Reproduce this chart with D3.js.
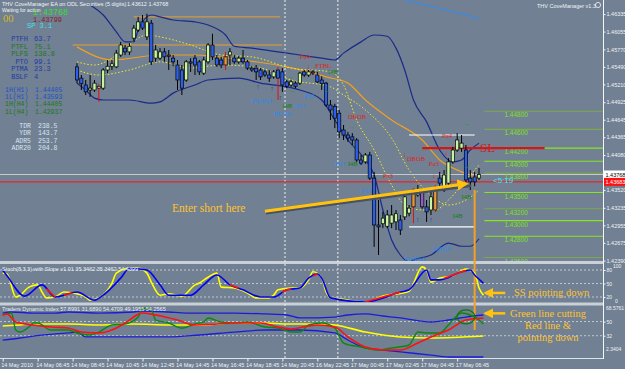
<!DOCTYPE html>
<html>
<head>
<meta charset="UTF-8">
<title>THV CoveManager - EURUSD M15</title>
<script src="https://d3js.org/d3.v7.min.js"></script>
<style>
  body { margin: 0; background: #718092; }
  svg text { font-family: "Liberation Sans", Arial, sans-serif; }
  .mono { font-family: "Liberation Mono", "DejaVu Sans Mono", monospace; }
  .serif { font-family: "Liberation Serif", "DejaVu Serif", serif; }
</style>
</head>
<body>
<div id="chart"></div>
<script>
// ---- candles (15 min bars, first visible bar index = 17) ----
const firstBar = 17;
const opens = [1.4549,1.4531,1.4520,1.4512,1.4512,1.4515,1.4515,1.4544,1.4550,1.4549,
  1.4568,1.4579,1.4573,1.4595,1.4608,1.4621,1.4597,1.4619,1.4563,1.4563,
  1.4573,1.4568,1.4563,1.4552,1.4544,1.4528,1.4557,1.4563,1.4557,1.4539,
  1.4557,1.4584,1.4563,1.4560,1.4552,1.4568,1.4563,1.4557,1.4563,1.4557,
  1.4547,1.4547,1.4544,1.4541,1.4536,1.4533,1.4544,1.4541,1.4525,1.4520,
  1.4523,1.4523,1.4541,1.4536,1.4541,1.4536,1.4528,1.4523,1.4488,1.4486,
  1.4475,1.4448,1.4440,1.4437,1.4432,1.4400,1.4397,1.4408,1.4371,1.4296,
  1.4298,1.4294,1.4299,1.4301,1.4304,1.4309,1.4315,1.4325,1.4344,1.4352,
  1.4325,1.4320,1.4320,1.4371,1.4352,1.4363,1.4397,1.4416,1.4419,1.4416,
  1.4371,1.4373,1.4371];
const highs = [1.4555,1.4536,1.4528,1.4536,1.4528,1.4522,1.4547,1.4560,1.4560,1.4576,
  1.4589,1.4584,1.4587,1.4616,1.4629,1.4632,1.4634,1.4624,1.4584,1.4579,
  1.4579,1.4576,1.4568,1.4560,1.4552,1.4560,1.4563,1.4568,1.4560,1.4565,
  1.4587,1.4602,1.4568,1.4565,1.4573,1.4579,1.4568,1.4566,1.4576,1.4560,
  1.4550,1.4552,1.4547,1.4544,1.4544,1.4544,1.4549,1.4547,1.4528,1.4528,
  1.4526,1.4541,1.4544,1.4544,1.4544,1.4541,1.4534,1.4525,1.4496,1.4490,
  1.4480,1.4456,1.4445,1.4443,1.4435,1.4408,1.4411,1.4413,1.4381,1.4336,
  1.4317,1.4320,1.4328,1.4320,1.4312,1.4344,1.4328,1.4355,1.4360,1.4355,
  1.4336,1.4352,1.4360,1.4381,1.4384,1.4403,1.4421,1.4443,1.4440,1.4424,
  1.4384,1.4381,1.4387];
const lows = [1.4523,1.4512,1.4504,1.4501,1.4509,1.4493,1.4512,1.4539,1.4544,1.4547,
  1.4565,1.4568,1.4568,1.4589,1.4605,1.4608,1.4592,1.4552,1.4557,1.4560,
  1.4557,1.4544,1.4550,1.4512,1.4504,1.4525,1.4541,1.4536,1.4536,1.4536,
  1.4554,1.4560,1.4549,1.4547,1.4544,1.4552,1.4554,1.4554,1.4554,1.4544,
  1.4541,1.4528,1.4528,1.4533,1.4525,1.4530,1.4496,1.4509,1.4515,1.4517,
  1.4515,1.4520,1.4533,1.4533,1.4536,1.4523,1.4512,1.4485,1.4464,1.4451,
  1.4435,1.4432,1.4429,1.4424,1.4397,1.4392,1.4394,1.4368,1.4261,1.4248,
  1.4291,1.4291,1.4291,1.4288,1.4280,1.4304,1.4310,1.4299,1.4341,1.4322,
  1.4301,1.4312,1.4317,1.4358,1.4349,1.4360,1.4394,1.4413,1.4413,1.4360,
  1.4352,1.4358,1.4368];
const closes = [1.4528,1.4522,1.4509,1.4515,1.4523,1.4518,1.4544,1.4550,1.4554,1.4571,
  1.4584,1.4573,1.4582,1.4611,1.4621,1.4611,1.4621,1.4557,1.4576,1.4573,
  1.4565,1.4566,1.4557,1.4528,1.4515,1.4557,1.4555,1.4552,1.4541,1.4560,
  1.4584,1.4565,1.4552,1.4552,1.4565,1.4573,1.4557,1.4563,1.4557,1.4547,
  1.4544,1.4541,1.4533,1.4536,1.4531,1.4541,1.4531,1.4520,1.4518,1.4525,
  1.4518,1.4539,1.4536,1.4541,1.4539,1.4525,1.4522,1.4488,1.4480,1.4467,
  1.4445,1.4440,1.4435,1.4432,1.4400,1.4395,1.4408,1.4371,1.4296,1.4293,
  1.4307,1.4312,1.4312,1.4314,1.4288,1.4341,1.4323,1.4352,1.4352,1.4325,
  1.4317,1.4341,1.4352,1.4363,1.4376,1.4397,1.4416,1.4432,1.4427,1.4368,
  1.4365,1.4365,1.4377];
const orangeBars = [51, 94, 99];
const purpleBars = [96];
const redWickBars = [22, 51, 63, 94, 99];

// ---- price overlays (bar index / price) ----
const bbUpperIdx = [20,23,26,28,30,31,34,36,39,44,47,51,53,57,63,68,73,76,78,82,85,88,90,92,94,97,100,103,105,107,109];
const bbUpper = [1.4648,1.4632,1.4605,1.4589,1.4589,1.4608,1.4632,1.4629,1.4624,1.4621,1.4616,1.4600,1.4582,1.4579,1.4573,1.4568,1.4563,1.4560,1.4571,1.4589,1.4600,1.4598,1.4579,1.4544,1.4496,1.4461,1.4416,1.4397,1.4400,1.4416,1.4427];
const bbLowerIdx = [17,19,21,23,29,34,36,39,44,47,54,59,65,68,73,76,79,83,85,87,89,91,93,94,98,102,105,107,109];
const bbLower = [1.4523,1.4512,1.4499,1.4496,1.4496,1.4491,1.4493,1.4507,1.4520,1.4528,1.4531,1.4523,1.4517,1.4512,1.4496,1.4464,1.4432,1.4400,1.4376,1.4320,1.4272,1.4248,1.4237,1.4240,1.4248,1.4267,1.4262,1.4262,1.4274];
const fastMaIdx = [17,21,25,28,33,36,43,50,57,66,75,78,81,85,89,92,96,99,102,106,109];
const fastMa = [1.4557,1.4552,1.4563,1.4579,1.4600,1.4597,1.4584,1.4568,1.4565,1.4547,1.4541,1.4520,1.4464,1.4416,1.4360,1.4328,1.4320,1.4320,1.4336,1.4368,1.4392];
const midIdx = [17,22,29,36,43,50,59,66,75,78,83,89,93,98,102,106,109];
const midBand = [1.4544,1.4536,1.4544,1.4557,1.4547,1.4552,1.4547,1.4528,1.4517,1.4504,1.4480,1.4435,1.4384,1.4344,1.4328,1.4336,1.4352];
const slowMaIdx = [17,25,36,44,55,65,70,74,79,83,89,96,100,105,109];
const slowMa = [1.4581,1.4560,1.4568,1.4568,1.4560,1.4549,1.4541,1.4533,1.4523,1.4496,1.4464,1.4432,1.4400,1.4381,1.4371];
const pivotLines = [{price: 1.4584, from: 16, to: 64}, {price: 1.4629, from: 30, to: 63.5}];
const trendLine = {from: 92, to: 109, p1: 1.4656, p2: 1.4627};

// ---- horizontal levels on the right ----
const levelPrices = [1.4478, 1.4449, 1.4419, 1.4398, 1.4379, 1.4348, 1.4322, 1.4303, 1.4278, 1.4244];
const levelLabels = ["1.44800","1.44600","1.44200","1.44000","1.43800","1.43500","1.43200","1.43000","1.42800","1.42600"];
const levelBright = [false,false,true,true,false,true,false,true,true,false];
const boxLines = [{price: 1.4440, from: 93, to: 108}, {price: 1.4293, from: 93, to: 108}];
const slLine = {price: 1.4419, from: 96, to: 124};
const bidPrice = 1.43768, askLinePrice = 1.4365;
const bidLabel = "1.43768", redLabel = "1.43683";
const priceTicks = [1.46335,1.46055,1.45770,1.45490,1.45210,1.44925,1.44645,1.44365,1.44080,1.43520,1.43235,1.42955,1.42675,1.42390];

// ---- markup labels on the chart ----
const marks = [
  {i:68,p:1.4565,t:"Pu4",c:"#e02020"},{i:71.5,p:1.4551,t:"FTBL",c:"#e02020"},{i:74.5,p:1.4541,t:"I4B",c:"#108010"},
  {i:57,p:1.4496,t:"Pu3Pu4",c:"#2a8cf0"},{i:62,p:1.4475,t:"BUTR",c:"#2a8cf0"},{i:64,p:1.4487,t:"I4B",c:"#108010"},
  {i:67,p:1.4487,t:"Pu3",c:"#2a8cf0"},{i:69,p:1.4504,t:"Pu2",c:"#2a8cf0"},{i:79,p:1.4470,t:"DBOB",c:"#e02020"},
  {i:76,p:1.4394,t:"Pu3",c:"#2a8cf0"},{i:79,p:1.4394,t:"I4B",c:"#108010"},{i:82,p:1.4352,t:"Pu4",c:"#2a8cf0"},
  {i:87,p:1.4376,t:"Pu3",c:"#e02020"},{i:92.5,p:1.4403,t:"DBOB",c:"#e02020"},{i:97.5,p:1.4395,t:"Pu3",c:"#e02020"},
  {i:100.5,p:1.4440,t:"Pu4",c:"#e02020"},{i:105,p:1.4342,t:"I4B",c:"#108010"},{i:103,p:1.4312,t:"I4B",c:"#108010"},
  {i:98.5,p:1.4259,t:"DBOB",c:"#2a8cf0"},{i:92,p:1.4243,t:"Pu3Pu4",c:"#2a8cf0"}
];
const upArrows = [{i:58.4,p:1.4518},{i:61.6,p:1.4515},{i:63.5,p:1.4501},{i:95,p:1.4306},{i:98,p:1.4306}];
const downArrows = [{i:70,p:1.4551},{i:71.2,p:1.4543},{i:92,p:1.4410},{i:98.7,p:1.4376},{i:101.5,p:1.4413}];
const rightArrows = [{i:65.7,p:1.4533},{i:66.2,p:1.4512},{i:74.2,p:1.4512},{i:79.9,p:1.4453},{i:79.9,p:1.4424},{i:106.2,p:1.4459},{i:106.2,p:1.4389}];

// ---- Stochastic ----
const kIdx = [0,1,3,4,6,8,9,10,12,14,16,19,20,22,25,26,29,31,33,34,36,38,41,44,45,47,49,50,53,56,58,61,62,63,66,68,70,71,73,74,75,77,83,87,93,96,97,98,100,103,106,108,109,110];
const kVal = [73,71,20,24,42,47,31,18,20,31,29,20,13,18,51,73,84,84,73,53,24,27,22,47,51,64,73,42,40,29,18,18,24,36,40,40,58,76,62,31,18,16,9,22,33,87,80,53,62,67,82,73,40,24];
const dIdx = [0,1,5,9,12,17,21,23,27,29,33,36,38,43,46,49,52,55,59,62,65,68,70,72,73,75,83,91,93,97,98,100,105,107,108,110];
const dVal = [80,67,22,47,20,31,13,24,62,84,80,47,24,24,47,69,47,36,20,20,36,40,62,71,62,18,9,31,36,80,58,58,76,80,69,51];
const dRed = [[10,12],[14,16],[52,54],[64,66],[71,72],[83,91],[101,106]];
const stochTicks = [80, 50, 20];

// ---- Traders Dynamic Index ----
const tdiUpIdx = [0,2,7,12,15,22,30,32,38,42,53,60,65,68,76,79,83,87,91,98,102,106,110];
const tdiUp = [60.9,62.2,60.9,60.9,62.2,60.9,62.2,63.5,62.2,60.9,60.9,59.7,58.4,54.6,55.8,58.4,59.7,57.1,54.6,49.5,52.0,55.8,58.4];
const tdiLoIdx = [0,4,7,15,17,19,22,30,38,45,53,60,68,76,79,83,87,91,98,102,110];
const tdiLo = [26.5,29.1,31.6,35.5,36.7,30.4,30.4,30.4,30.4,32.9,36.7,39.3,39.3,35.5,26.5,16.4,13.8,11.3,7.4,4.9,4.9];
const tdiMidIdx = [0,4,7,15,22,30,38,45,53,60,65,73,76,83,91,98,110];
const tdiMid = [44.4,45.7,46.9,46.9,45.7,46.9,45.7,45.7,48.2,48.2,46.9,46.9,45.7,36.7,30.4,29.1,31.6];
const tdiSigIdx = [0,1,3,7,11,15,18,22,25,28,32,35,40,44,49,53,59,63,66,70,72,76,79,83,87,91,95,98,102,106,110];
const tdiSig = [58.4,59.7,49.5,45.7,43.1,41.8,36.7,35.5,39.3,48.2,60.9,58.4,52.0,45.7,46.9,48.2,48.2,43.1,40.6,44.4,45.7,43.1,30.4,17.6,13.8,13.8,22.7,30.4,39.3,52.0,54.6];
const tdiRsiIdx = [0,2,3,4,6,7,8,11,15,17,20,22,25,28,31,32,34,35,38,41,44,46,47,50,53,56,60,63,66,68,70,73,76,78,82,83,86,89,93,95,97,100,102,105,107,109,110];
const tdiRsi = [58.4,60.9,39.3,36.7,43.1,48.2,48.2,39.3,39.3,35.5,32.9,36.7,45.7,46.9,55.8,67.3,64.8,52.0,48.2,41.8,46.9,49.5,54.6,49.5,48.2,49.5,43.1,41.8,36.7,36.7,45.7,48.2,41.8,22.7,17.6,16.4,13.8,16.4,20.2,36.7,35.5,35.5,45.7,60.9,58.4,52.0,46.9];
const tdiTicks = [50, 32];

// ---- time axis ----
const timeTickIdx = [0,8,16,24,32,40,48,56,64,72,80,88,96,104];
const timeLabels = ["14 May 2010","14 May 06:45","14 May 08:45","14 May 10:45","14 May 12:45","14 May 14:45","14 May 16:45","14 May 18:45","14 May 20:45","16 May 22:45","17 May 00:45","17 May 02:45","17 May 04:45","17 May 06:45"];
const daySeparators = [64.6, 76.7];

// ---- layout ----
const W = 625, H = 369, axisX = 603;
const main = {top: 0, bottom: 261};
const stoch = {top: 265, bottom: 302};
const tdi = {top: 306, bottom: 358};

const x = d3.scaleLinear().domain([0, 110]).range([2.7, 483.4]);
const y = d3.scaleLinear().domain([1.4656, 1.4240]).range([0, 260]);
const yS = d3.scaleLinear().domain([0, 100]).range([306, 261]);
const yT = d3.scaleLinear().domain([2.3404, 68.5761]).range([359, 307]);

const svg = d3.select("#chart").append("svg").attr("width", W).attr("height", H);
svg.append("rect").attr("width", W).attr("height", H).attr("fill", "#718092");

const defs = svg.append("defs");
[["clipMain", main], ["clipStoch", stoch], ["clipTdi", tdi]].forEach(([id, p]) => {
  defs.append("clipPath").attr("id", id).append("rect")
    .attr("x", 0).attr("y", p.top).attr("width", axisX).attr("height", p.bottom - p.top);
});
defs.append("marker").attr("id", "head").attr("viewBox", "0 0 10 10")
  .attr("refX", 8).attr("refY", 5).attr("markerWidth", 4).attr("markerHeight", 4)
  .attr("orient", "auto").append("path").attr("d", "M0,0L10,5L0,10z").attr("fill", "#ffc20e");

function curve(idx, vals, ys) {
  return d3.line().x((d, j) => x(idx[j])).y(d => ys(d)).curve(d3.curveMonotoneX)(vals);
}

// panel separators
svg.append("rect").attr("x", 0).attr("y", 261).attr("width", axisX).attr("height", 3).attr("fill", "#c9d0d8");
svg.append("rect").attr("x", 0).attr("y", 302.5).attr("width", axisX).attr("height", 3).attr("fill", "#c9d0d8");
svg.append("line").attr("x1", 0).attr("x2", axisX).attr("y1", 358.5).attr("y2", 358.5).attr("stroke", "#dde3ea");

// day separators across all panels
daySeparators.forEach(i => {
  svg.append("line").attr("x1", x(i)).attr("x2", x(i)).attr("y1", 0).attr("y2", 358)
    .attr("stroke", "#f0f0f0").attr("stroke-dasharray", "2,2");
});

// ================= MAIN CHART =================
const gm = svg.append("g").attr("clip-path", "url(#clipMain)");

pivotLines.forEach(l => {
  gm.append("line").attr("x1", x(l.from)).attr("x2", x(l.to)).attr("y1", y(l.price)).attr("y2", y(l.price))
    .attr("stroke", "#e8a030").attr("stroke-width", 1);
});
gm.append("line").attr("x1", x(trendLine.from)).attr("x2", x(trendLine.to))
  .attr("y1", y(trendLine.p1)).attr("y2", y(trendLine.p2)).attr("stroke", "#3a8ae8").attr("stroke-width", 1.2);

gm.append("path").attr("d", curve(bbUpperIdx, bbUpper, y)).attr("fill", "none").attr("stroke", "#1a2a8a").attr("stroke-width", 1.2);
gm.append("path").attr("d", curve(bbLowerIdx, bbLower, y)).attr("fill", "none").attr("stroke", "#1a2a8a").attr("stroke-width", 1.2);
gm.append("path").attr("d", curve(slowMaIdx, slowMa, y)).attr("fill", "none").attr("stroke", "#f0a020").attr("stroke-width", 1.2);
gm.append("path").attr("d", curve(midIdx, midBand, y)).attr("fill", "none").attr("stroke", "#f0f020").attr("stroke-dasharray", "1.5,2");
gm.append("path").attr("d", curve(fastMaIdx, fastMa, y)).attr("fill", "none").attr("stroke", "#f0f020").attr("stroke-dasharray", "1.5,2");

// bid / ask lines
gm.append("line").attr("x1", 0).attr("x2", axisX).attr("y1", y(bidPrice)).attr("y2", y(bidPrice)).attr("stroke", "#c8c8c8");
gm.append("line").attr("x1", 0).attr("x2", axisX).attr("y1", y(askLinePrice)).attr("y2", y(askLinePrice)).attr("stroke", "#ff1010");

// level lines
const levelX0 = x(110) + 1;
levelPrices.forEach((p, j) => {
  gm.append("line").attr("x1", levelX0).attr("x2", axisX).attr("y1", y(p)).attr("y2", y(p))
    .attr("stroke", levelBright[j] ? "#86e81c" : "#7aa84a").attr("stroke-width", 1.2);
  gm.append("text").attr("x", levelX0 + 20).attr("y", y(p) + 6).attr("font-size", 6.5)
    .attr("fill", "#7ee020").text(levelLabels[j]);
});
boxLines.forEach(l => {
  gm.append("line").attr("x1", x(l.from)).attr("x2", x(l.to)).attr("y1", y(l.price)).attr("y2", y(l.price))
    .attr("stroke", "#ffffff").attr("stroke-width", 1.2);
});
gm.append("line").attr("x1", x(slLine.from)).attr("x2", x(slLine.to)).attr("y1", y(slLine.price)).attr("y2", y(slLine.price))
  .attr("stroke", "#d01818").attr("stroke-width", 2.2);

// candles
const bars = opens.map((o, k) => ({i: firstBar + k, o, h: highs[k], l: lows[k], c: closes[k]}));
const cg = gm.append("g");
cg.selectAll("line.wick").data(bars).enter().append("line")
  .attr("x1", d => x(d.i)).attr("x2", d => x(d.i)).attr("y1", d => y(d.h)).attr("y2", d => y(d.l))
  .attr("stroke", d => redWickBars.includes(d.i) ? "#e01010" : "#000").attr("stroke-width", 1);
cg.selectAll("rect.body").data(bars).enter().append("rect")
  .attr("x", d => x(d.i) - 1.6).attr("width", 3.2)
  .attr("y", d => y(Math.max(d.o, d.c)))
  .attr("height", d => Math.max(1, Math.abs(y(d.o) - y(d.c))))
  .attr("fill", d => orangeBars.includes(d.i) ? "#e8963c" : purpleBars.includes(d.i) ? "#9060c8" : (d.c >= d.o ? "#c8f5a0" : "#2d5fe8"))
  .attr("stroke", "#000").attr("stroke-width", 0.7);

// markup text and arrows
marks.forEach(m => {
  gm.append("text").attr("class", "serif").attr("x", x(m.i)).attr("y", y(m.p) + 2.5)
    .attr("font-size", 6.5).attr("fill", m.c).text(m.t);
});
upArrows.forEach(a => gm.append("text").attr("x", x(a.i)).attr("y", y(a.p) + 3).attr("text-anchor", "middle")
  .attr("font-size", 7).attr("fill", "#1a3aa0").text("↑"));
downArrows.forEach(a => gm.append("text").attr("x", x(a.i)).attr("y", y(a.p) + 3).attr("text-anchor", "middle")
  .attr("font-size", 7).attr("fill", "#e01818").text("↓"));
rightArrows.forEach(a => gm.append("text").attr("x", x(a.i)).attr("y", y(a.p) + 2.5).attr("text-anchor", "middle")
  .attr("font-size", 7).attr("fill", "#18a018").text("→"));

// "Enter short here" arrow
const entry = {from: 60, to: 107, p1: 1.4318, p2: 1.4362};
gm.append("line").attr("x1", x(entry.from) + 1).attr("x2", x(entry.to) + 1)
  .attr("y1", y(entry.p1) + 2).attr("y2", y(entry.p2) + 2).attr("stroke", "#4a5260").attr("stroke-width", 2.5);
gm.append("line").attr("x1", x(entry.from)).attr("x2", x(entry.to) - 4)
  .attr("y1", y(entry.p1)).attr("y2", y(entry.p2)).attr("stroke", "#ffc20e").attr("stroke-width", 2.8)
  .attr("marker-end", "url(#head)");
svg.append("text").attr("class", "serif").attr("x", 172).attr("y", 212).attr("font-size", 11.5)
  .attr("fill", "#ffc330").text("Enter short here");
svg.append("text").attr("class", "serif").attr("x", 480).attr("y", 152).attr("font-size", 13)
  .attr("fill", "#d02020").text("SL");
svg.append("text").attr("x", 493).attr("y", 183).attr("font-size", 8)
  .attr("fill", "#40e8f8").text("<5:19");

// orange vertical marker line
svg.append("line").attr("x1", x(108)).attr("x2", x(108)).attr("y1", y(1.4352)).attr("y2", yT(39.3))
  .attr("stroke", "#f5a020").attr("stroke-width", 2);

// ================= STOCH PANEL =================
const gs = svg.append("g").attr("clip-path", "url(#clipStoch)");
stochTicks.forEach(v => gs.append("line").attr("x1", 0).attr("x2", axisX).attr("y1", yS(v)).attr("y2", yS(v))
  .attr("stroke", "#c0c8d0").attr("stroke-dasharray", "2,2"));
gs.append("path").attr("d", curve(kIdx, kVal, yS)).attr("fill", "none").attr("stroke", "#ffff00").attr("stroke-width", 1.6);
gs.append("path").attr("d", curve(dIdx, dVal, yS)).attr("fill", "none").attr("stroke", "#0000f0").attr("stroke-width", 1.6);
// red slope segments on %D
const dInterp = i => {
  let j = d3.bisectRight(dIdx, i) - 1; j = Math.max(0, Math.min(dIdx.length - 2, j));
  const t = (i - dIdx[j]) / (dIdx[j + 1] - dIdx[j]);
  return dVal[j] + t * (dVal[j + 1] - dVal[j]);
};
dRed.forEach(([a, b]) => {
  const pts = d3.range(a, b + 0.01, 0.5);
  gs.append("path").attr("d", d3.line().x(i => x(i)).y(i => yS(dInterp(i)))(pts))
    .attr("fill", "none").attr("stroke", "#ff1010").attr("stroke-width", 1.6);
});
svg.append("text").attr("x", 2).attr("y", 271).attr("font-size", 5.5).attr("fill", "#e8eef4")
  .text("Stoch(8,3,3) with Slope v1.01 35.3462 35.3462 54.4399");

// ================= TDI PANEL =================
const gt = svg.append("g").attr("clip-path", "url(#clipTdi)");
tdiTicks.forEach(v => gt.append("line").attr("x1", 0).attr("x2", axisX).attr("y1", yT(v)).attr("y2", yT(v))
  .attr("stroke", "#c0c8d0").attr("stroke-dasharray", "2,2"));
gt.append("path").attr("d", curve(tdiUpIdx, tdiUp, yT)).attr("fill", "none").attr("stroke", "#1c1cd8").attr("stroke-width", 1.3);
gt.append("path").attr("d", curve(tdiLoIdx, tdiLo, yT)).attr("fill", "none").attr("stroke", "#1c1cd8").attr("stroke-width", 1.3);
gt.append("path").attr("d", curve(tdiMidIdx, tdiMid, yT)).attr("fill", "none").attr("stroke", "#ffff00").attr("stroke-width", 1.6);
gt.append("path").attr("d", curve(tdiRsiIdx, tdiRsi, yT)).attr("fill", "none").attr("stroke", "#0a8a0a").attr("stroke-width", 1.4);
gt.append("path").attr("d", curve(tdiSigIdx, tdiSig, yT)).attr("fill", "none").attr("stroke", "#ff1010").attr("stroke-width", 1.6);
gt.append("ellipse").attr("cx", x(106)).attr("cy", yT(56)).attr("rx", 9).attr("ry", 7)
  .attr("fill", "none").attr("stroke", "#0a7a0a").attr("stroke-width", 1.2);
svg.append("text").attr("x", 2).attr("y", 311).attr("font-size", 5.5).attr("fill", "#e8eef4")
  .text("Traders Dynamic Index 57.8991 31.6890 54.4709 49.1955 54.2565");

// callout arrows into the indicator panels
const callouts = [
  {from: 115, to: 109.5, yv: yS(29), lines: ["SS pointing down"], tx: 514, anchor: "start"},
  {from: 115, to: 109.5, yv: yT(60.5), lines: ["Green line cutting", "Red line &", "pointing down"], tx: 548, anchor: "middle"}
];
callouts.forEach(c => {
  svg.append("line").attr("x1", x(c.from)).attr("x2", x(c.to) + 4).attr("y1", c.yv).attr("y2", c.yv)
    .attr("stroke", "#ffc20e").attr("stroke-width", 2.5).attr("marker-end", "url(#head)");
  c.lines.forEach((t, j) => {
    svg.append("text").attr("class", "serif").attr("x", c.tx).attr("y", c.yv + 3.5 + j * 12)
      .attr("font-size", 10.5).attr("text-anchor", c.anchor).attr("fill", "#ffc330").text(t);
  });
});

// ================= AXES =================
svg.append("line").attr("x1", axisX + 0.5).attr("x2", axisX + 0.5).attr("y1", 0).attr("y2", 359).attr("stroke", "#f4f6f8");
const rAxis = svg.append("g").attr("transform", `translate(${axisX + 0.5},0)`);
rAxis.call(d3.axisRight(y).tickValues(priceTicks).tickSize(2).tickPadding(1).tickFormat(d3.format(".5f")));
rAxis.selectAll("text").attr("font-size", 5.5).attr("fill", "#f0f4f8");
rAxis.selectAll("line").attr("stroke", "#f0f4f8");
rAxis.select(".domain").remove();

// bid and red price tags
[[bidPrice, bidLabel, "#ffffff", "#000"], [askLinePrice, redLabel, "#ff1010", "#ffffff"]].forEach(([p, t, bg, fg]) => {
  svg.append("rect").attr("x", axisX + 1).attr("y", y(p) - 4).attr("width", 21).attr("height", 8).attr("fill", bg);
  svg.append("text").attr("x", axisX + 2.5).attr("y", y(p) + 2).attr("font-size", 5.5).attr("fill", fg).text(t);
});

const sAxis = svg.append("g").attr("transform", `translate(${axisX + 0.5},0)`);
sAxis.call(d3.axisRight(yS).tickValues(stochTicks).tickSize(2).tickPadding(1));
sAxis.selectAll("text").attr("font-size", 5).attr("fill", "#f0f4f8");
sAxis.selectAll("line").attr("stroke", "#f0f4f8");
sAxis.select(".domain").remove();
svg.append("text").attr("x", axisX + 10).attr("y", stoch.top + 3).attr("font-size", 5).attr("fill", "#f0f4f8").text("100");
svg.append("text").attr("x", axisX + 12).attr("y", stoch.bottom + 1).attr("font-size", 5).attr("fill", "#f0f4f8").text("0");

const tAxis = svg.append("g").attr("transform", `translate(${axisX + 0.5},0)`);
tAxis.call(d3.axisRight(yT).tickValues(tdiTicks).tickSize(2).tickPadding(1));
tAxis.selectAll("text").attr("font-size", 5).attr("fill", "#f0f4f8");
tAxis.selectAll("line").attr("stroke", "#f0f4f8");
tAxis.select(".domain").remove();
svg.append("text").attr("x", axisX + 3).attr("y", tdi.top + 4).attr("font-size", 5).attr("fill", "#f0f4f8").text("68.5761");
svg.append("text").attr("x", axisX + 3).attr("y", tdi.bottom - 7).attr("font-size", 5).attr("fill", "#f0f4f8").text("2.3404");

const bAxis = svg.append("g").attr("transform", `translate(0,${tdi.bottom + 0.5})`);
bAxis.call(d3.axisBottom(x).tickValues(timeTickIdx).tickSize(3).tickPadding(2).tickFormat((d, j) => timeLabels[j]));
bAxis.selectAll("text").attr("font-size", 5.5).attr("fill", "#f0f4f8").attr("text-anchor", "start").attr("dx", -2);
bAxis.selectAll("line").attr("stroke", "#f0f4f8");
bAxis.select(".domain").remove();

// ================= INFO PANEL (top left) =================
const info = svg.append("g");
info.append("text").attr("x", 2).attr("y", 6).attr("font-size", 5.5).attr("fill", "#f0f4f8")
  .text("THV CoveManager EA on ODL Securities (5 digits)");
info.append("text").attr("x", 127).attr("y", 6).attr("font-size", 5.5).attr("fill", "#f0f4f8").text("1.43612 1.43768");
info.append("text").attr("x", 2).attr("y", 11.5).attr("font-size", 5).attr("fill", "#f0f4f8").text("Waiting for action");
info.append("text").attr("class", "serif").attr("x", 3).attr("y", 22).attr("font-size", 10.5).attr("fill", "#d8b818").text("00");
info.append("text").attr("class", "mono").attr("x", 33).attr("y", 14.5).attr("font-size", 9.5)
  .attr("textLength", 35).attr("lengthAdjust", "spacingAndGlyphs").attr("fill", "#30e030").text("1.43768");
info.append("text").attr("class", "mono").attr("x", 33).attr("y", 21.5).attr("font-size", 7)
  .attr("textLength", 29).attr("lengthAdjust", "spacingAndGlyphs").attr("fill", "#8a1a1a").text("1.43799");
info.append("text").attr("class", "mono").attr("x", 27).attr("y", 27.5).attr("font-size", 7).attr("fill", "#40e0f0").text("SP 3.1");

const statLabels = ["PTFH","PTFL","PLFS","PTO","PTMA","BSLF"];
const statValues = ["63.7","75.1","138.8","99.1","23.3","4"];
const statColors = ["#1e3ca8","#1a7a1a","#1a7a1a","#1e3ca8","#1e3ca8","#1e3ca8"];
statLabels.forEach((t, j) => {
  info.append("text").attr("class", "mono").attr("x", 28).attr("y", 41 + j * 7.5).attr("font-size", 7)
    .attr("text-anchor", "end").attr("fill", statColors[j]).text(t);
  info.append("text").attr("class", "mono").attr("x", 34).attr("y", 41 + j * 7.5).attr("font-size", 7)
    .attr("fill", statColors[j]).text(statValues[j]);
});
const hlLabels = ["1H(H1)","1L(H1)","1H(H4)","1L(H4)"];
const hlValues = ["1.44405","1.43593","1.44405","1.42937"];
const hlColors = ["#2050c8","#2050c8","#1a7a1a","#1a7a1a"];
hlLabels.forEach((t, j) => {
  info.append("text").attr("class", "mono").attr("x", 5).attr("y", 92 + j * 7.2).attr("font-size", 6.5).attr("fill", hlColors[j]).text(t);
  info.append("text").attr("class", "mono").attr("x", 35).attr("y", 92 + j * 7.2).attr("font-size", 6.5).attr("fill", hlColors[j]).text(hlValues[j]);
});
const rangeLabels = ["TDR","YDR","ADR5","ADR20"];
const rangeValues = ["238.5","143.7","253.7","204.8"];
rangeLabels.forEach((t, j) => {
  info.append("text").attr("class", "mono").attr("x", 31).attr("y", 128 + j * 7.3).attr("font-size", 6.5)
    .attr("text-anchor", "end").attr("fill", "#d8e6f4").text(t);
  info.append("text").attr("class", "mono").attr("x", 38).attr("y", 128 + j * 7.3).attr("font-size", 6.5)
    .attr("fill", "#d8e6f4").text(rangeValues[j]);
});

svg.append("text").attr("x", 537).attr("y", 8).attr("font-size", 5.5).attr("fill", "#f0f4f8").text("THV CoveManager v1.3");
svg.append("circle").attr("cx", 598).attr("cy", 5).attr("r", 2.6).attr("fill", "none").attr("stroke", "#f0f4f8").attr("stroke-width", 0.8);
</script>
</body>
</html>
